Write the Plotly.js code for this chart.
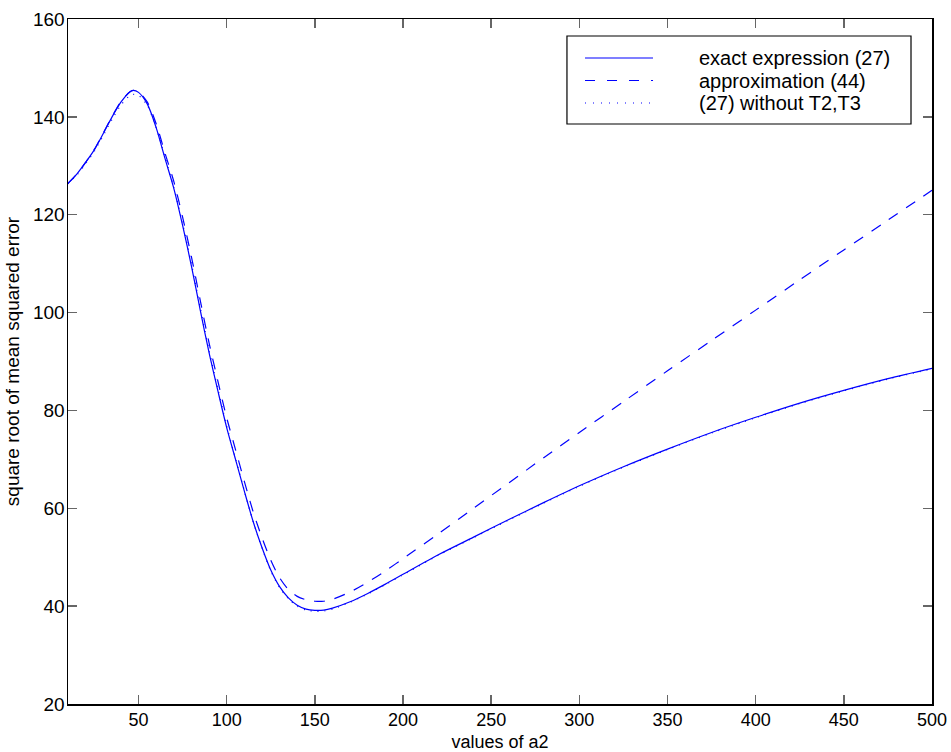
<!DOCTYPE html>
<html>
<head>
<meta charset="utf-8">
<script src="https://cdn.plot.ly/plotly-3.0.1.min.js"></script>
<style>
  html, body { margin: 0; padding: 0; background: #ffffff; }
  #chart { width: 951px; height: 752px; }
</style>
</head>
<body>
<div id="chart"></div>
<script>
// values of a2
const a2 = [10, 15, 20, 25, 30, 35, 40, 45, 47, 50, 55, 60, 65, 70, 75, 80, 85, 90, 95, 100,
            105, 110, 115, 120, 125, 130, 135, 140, 145, 150, 155, 160, 170, 180, 190, 200,
            220, 240, 260, 280, 300, 325, 350, 375, 400, 425, 450, 475, 500];

// exact expression (27)
const exactExpr = [126.4, 128.3, 130.7, 133.3, 136.6, 140.0, 143.0, 145.1, 145.4, 145.0, 142.6, 137.8, 131.5, 125.4, 117.8, 109.5, 100.5, 91.8, 84.0, 76.5,
                   70.0, 63.5, 57.3, 52.0, 47.4, 44.0, 41.7, 40.2, 39.4, 39.15, 39.2, 39.6, 40.9, 42.6, 44.5, 46.5,
                   50.5, 54.1, 57.7, 61.2, 64.6, 68.5, 72.1, 75.5, 78.6, 81.5, 84.1, 86.5, 88.6];

// approximation (44)
const approx44 = [126.4, 128.3, 130.7, 133.4, 136.7, 140.1, 143.1, 145.1, 145.4, 145.1, 143.0, 138.6, 132.6, 126.8, 119.5, 111.4, 102.5, 93.8, 86.0, 78.5,
                  72.0, 65.5, 59.3, 54.0, 49.4, 45.8, 43.4, 42.0, 41.3, 41.0, 41.0, 41.4, 42.9, 44.9, 47.2, 49.7,
                  54.8, 60.0, 65.2, 70.4, 75.5, 81.8, 88.1, 94.3, 100.5, 106.7, 112.8, 118.9, 125.0];

// (27) without T2,T3
const withoutT2T3 = [126.3, 128.1, 130.4, 133.0, 136.2, 139.5, 142.4, 144.3, 144.6, 144.4, 142.3, 137.8, 131.8, 125.6, 118.2, 110.0, 101.0, 92.3, 84.4, 76.8,
                     70.2, 63.6, 57.3, 51.9, 47.2, 43.8, 41.5, 40.0, 39.2, 38.95, 39.0, 39.4, 40.8, 42.5, 44.4, 46.4,
                     50.4, 54.0, 57.6, 61.1, 64.5, 68.4, 72.0, 75.4, 78.5, 81.4, 84.0, 86.4, 88.5];

const seriesNames = ['exact expression (27)', 'approximation (44)', '(27) without T2,T3'];
const xTicks = [50, 100, 150, 200, 250, 300, 350, 400, 450, 500];
const yTicks = [20, 40, 60, 80, 100, 120, 140, 160];

const blue = '#0000ff';
const font = 'Liberation Sans, Arial, Helvetica, sans-serif';

const traces = [
  { x: a2, y: exactExpr, name: seriesNames[0], type: 'scatter', mode: 'lines',
    line: { color: blue, width: 1.2, shape: 'spline', smoothing: 0.8 } },
  { x: a2, y: approx44, name: seriesNames[1], type: 'scatter', mode: 'lines',
    line: { color: blue, width: 1.2, dash: '11px,10px', shape: 'spline', smoothing: 0.8 } },
  { x: a2, y: withoutT2T3, name: seriesNames[2], type: 'scatter', mode: 'lines',
    line: { color: blue, width: 1.2, dash: '1px,6px', shape: 'spline', smoothing: 0.8 } }
];

// custom MATLAB-style legend (paper coordinates)
const lgX0 = 0.5775, lgX1 = 0.9757, lgY0 = 0.8467, lgY1 = 0.9752;
const rowY = [0.9431, 0.9102, 0.8774];
const dashes = ['solid', '10px,12px', '1px,7px'];
const shapes = [
  { type: 'rect', xref: 'paper', yref: 'paper', x0: lgX0, x1: lgX1, y0: lgY0, y1: lgY1,
    line: { color: '#000000', width: 1.2 }, fillcolor: '#ffffff', layer: 'above' }
];
const annotations = [];
for (let i = 0; i < 3; i++) {
  shapes.push({ type: 'line', xref: 'paper', yref: 'paper', x0: 0.5984, x1: 0.6771,
    y0: rowY[i], y1: rowY[i], line: { color: blue, width: 1.2, dash: dashes[i] }, layer: 'above' });
  annotations.push({ xref: 'paper', yref: 'paper', x: 0.728, y: rowY[i], xanchor: 'left', yanchor: 'middle',
    text: seriesNames[i], showarrow: false, font: { family: font, size: 20, color: '#000000' } });
}

const layout = {
  width: 951, height: 752,
  margin: { l: 68, r: 19, t: 19, b: 48 },
  paper_bgcolor: '#ffffff', plot_bgcolor: '#ffffff',
  showlegend: false,
  font: { family: font, size: 19, color: '#000000' },
  xaxis: {
    range: [10, 500], tickvals: xTicks, ticktext: xTicks.map(String),
    ticks: 'inside', ticklen: 9, tickwidth: 1.5, tickcolor: '#666666',
    showline: true, linecolor: '#000000', linewidth: 1.5, mirror: 'ticks',
    showgrid: false, zeroline: false, ticklabelstandoff: -1,
    tickfont: { family: font, size: 18, color: '#000000' },
    title: { text: 'values of a2', font: { family: font, size: 18, color: '#000000' }, standoff: 6 }
  },
  yaxis: {
    range: [20, 160], tickvals: yTicks, ticktext: yTicks.map(String),
    ticks: 'inside', ticklen: 9, tickwidth: 1.5, tickcolor: '#666666',
    showline: true, linecolor: '#000000', linewidth: 1.5, mirror: 'ticks',
    showgrid: false, zeroline: false, ticklabelstandoff: -2,
    tickfont: { family: font, size: 19, color: '#000000' },
    title: { text: 'square root of mean squared error', font: { family: font, size: 19, color: '#000000' }, standoff: 8 }
  },
  shapes: shapes,
  annotations: annotations
};

Plotly.newPlot('chart', traces, layout, { staticPlot: true, displayModeBar: false });
</script>
</body>
</html>
